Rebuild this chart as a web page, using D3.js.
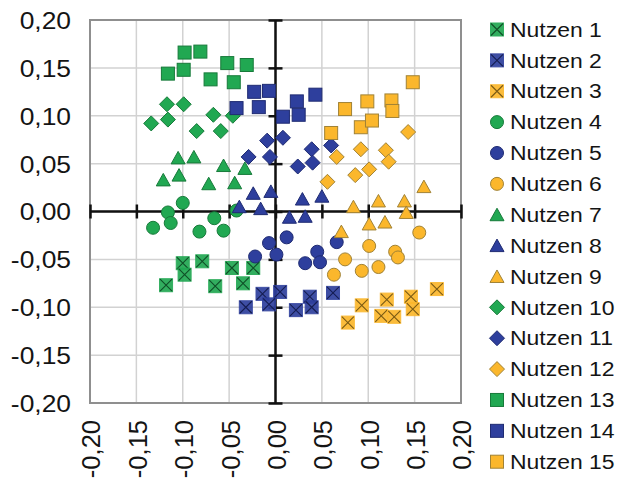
<!DOCTYPE html>
<html>
<head>
<meta charset="utf-8">
<title>Nutzen</title>
<script src="https://d3js.org/d3.v7.min.js"></script>
<style>
body { margin: 0; background: #fff; }
svg { display: block; }
text { font-family: "Liberation Sans", Arial, sans-serif; fill: #141414; }
</style>
</head>
<body>
<script>
// values, [x, y]
const nutzen1 = [[-0.100, -0.054], [-0.079, -0.052], [-0.098, -0.066], [-0.118, -0.077], [-0.047, -0.059], [-0.024, -0.059], [-0.035, -0.075], [-0.065, -0.078]];
const nutzen2 = [[-0.014, -0.086], [0.005, -0.084], [-0.007, -0.097], [-0.032, -0.100], [0.022, -0.103], [0.037, -0.089], [0.039, -0.100], [0.062, -0.085]];
const nutzen3 = [[0.174, -0.081], [0.146, -0.089], [0.120, -0.092], [0.093, -0.098], [0.148, -0.102], [0.114, -0.109], [0.128, -0.110], [0.078, -0.116]];
const nutzen4 = [[-0.100, 0.009], [-0.116, -0.001], [-0.113, -0.012], [-0.132, -0.017], [-0.066, -0.007], [-0.082, -0.021], [-0.056, -0.020], [-0.042, 0.001]];
const nutzen5 = [[-0.007, -0.033], [0.012, -0.027], [-0.022, -0.047], [0.001, -0.045], [0.045, -0.042], [0.032, -0.054], [0.048, -0.053], [0.066, -0.032]];
const nutzen6 = [[0.155, -0.022], [0.101, -0.036], [0.129, -0.042], [0.132, -0.048], [0.075, -0.050], [0.111, -0.058], [0.093, -0.062], [0.063, -0.066]];
const nutzen7 = [[-0.105, 0.056], [-0.088, 0.057], [-0.121, 0.033], [-0.104, 0.038], [-0.072, 0.029], [-0.056, 0.048], [-0.044, 0.030], [-0.033, 0.045]];
const nutzen8 = [[-0.024, 0.019], [-0.005, 0.021], [-0.039, 0.005], [-0.016, 0.003], [0.029, 0.013], [0.050, 0.016], [0.015, -0.006], [0.032, -0.005]];
const nutzen9 = [[0.160, 0.026], [0.111, 0.011], [0.139, 0.011], [0.084, 0.005], [0.141, -0.001], [0.101, -0.013], [0.118, -0.011], [0.071, -0.021]];
const nutzen10 = [[-0.117, 0.112], [-0.099, 0.112], [-0.134, 0.092], [-0.116, 0.096], [-0.067, 0.101], [-0.046, 0.100], [-0.085, 0.084], [-0.059, 0.084]];
const nutzen11 = [[-0.009, 0.074], [0.008, 0.077], [-0.029, 0.057], [-0.006, 0.057], [0.039, 0.065], [0.024, 0.047], [0.040, 0.051], [0.060, 0.069]];
const nutzen12 = [[0.143, 0.083], [0.066, 0.057], [0.092, 0.065], [0.119, 0.064], [0.122, 0.052], [0.086, 0.038], [0.101, 0.044], [0.056, 0.031]];
const nutzen13 = [[-0.116, 0.144], [-0.098, 0.166], [-0.081, 0.167], [-0.099, 0.148], [-0.070, 0.138], [-0.052, 0.155], [-0.045, 0.135], [-0.031, 0.153]];
const nutzen14 = [[-0.042, 0.108], [-0.023, 0.125], [-0.007, 0.126], [-0.018, 0.109], [0.008, 0.099], [0.023, 0.115], [0.043, 0.122], [0.025, 0.101]];
const nutzen15 = [[0.148, 0.135], [0.075, 0.107], [0.099, 0.115], [0.125, 0.116], [0.126, 0.105], [0.092, 0.088], [0.104, 0.095], [0.060, 0.082]];

const seriesNames = ['Nutzen 1', 'Nutzen 2', 'Nutzen 3', 'Nutzen 4', 'Nutzen 5', 'Nutzen 6', 'Nutzen 7', 'Nutzen 8',
    'Nutzen 9', 'Nutzen 10', 'Nutzen 11', 'Nutzen 12', 'Nutzen 13', 'Nutzen 14', 'Nutzen 15'];
const seriesData = [nutzen1, nutzen2, nutzen3, nutzen4, nutzen5, nutzen6, nutzen7, nutzen8,
    nutzen9, nutzen10, nutzen11, nutzen12, nutzen13, nutzen14, nutzen15];
const shapes = ['xsquare', 'circle', 'triangle', 'diamond', 'square'];
const tickVals = [-0.20, -0.15, -0.10, -0.05, 0.00, 0.05, 0.10, 0.15, 0.20];

const palette = [
    {fill: '#21a852', stroke: '#177a3a', cross: '#0f4f27'},
    {fill: '#2e3f9d', stroke: '#1f2b72', cross: '#151d52'},
    {fill: '#fbb72c', stroke: '#a08236', cross: '#7a5a14'}
];

let width = 620, height = 481;
let plot = {left: 90, right: 461, top: 20, bottom: 403};

let svg = d3.select('body').append('svg').attr('width', width).attr('height', height);

let x = d3.scaleLinear().domain([-0.2, 0.2]).range([plot.left, plot.right]);
let y = d3.scaleLinear().domain([-0.2, 0.2]).range([plot.bottom, plot.top]);

let fmt = (v) => (v < 0 ? '-' : '') + Math.abs(v).toFixed(2).replace('.', ',');

// grid
svg.append('g').selectAll('line').data(tickVals).enter().append('line')
    .attr('x1', (d) => x(d)).attr('x2', (d) => x(d)).attr('y1', plot.top).attr('y2', plot.bottom)
    .attr('stroke', '#d2d2d2').attr('stroke-width', 1.5);
svg.append('g').selectAll('line').data(tickVals).enter().append('line')
    .attr('y1', (d) => y(d)).attr('y2', (d) => y(d)).attr('x1', plot.left).attr('x2', plot.right)
    .attr('stroke', '#d2d2d2').attr('stroke-width', 1.5);

svg.append('rect').attr('x', plot.left).attr('y', plot.top)
    .attr('width', plot.right - plot.left).attr('height', plot.bottom - plot.top)
    .attr('fill', 'none').attr('stroke', '#8f8f8f').attr('stroke-width', 2);

// axes crossing at zero, ticks on both sides
let xCross = svg.append('g').attr('transform', 'translate(0,' + (y(0) - 7) + ')')
    .call(d3.axisBottom(x).tickValues(tickVals).tickSize(14).tickSizeOuter(0).tickFormat(''));
let yCross = svg.append('g').attr('transform', 'translate(' + (x(0) + 7) + ',0)')
    .call(d3.axisLeft(y).tickValues(tickVals).tickSize(14).tickSizeOuter(0).tickFormat(''));
[xCross, yCross].forEach((g) => {
    g.select('.domain').remove();
    g.selectAll('.tick line').attr('stroke', '#111').attr('stroke-width', 2.5);
});
svg.append('line').attr('x1', plot.left).attr('x2', plot.right).attr('y1', y(0)).attr('y2', y(0))
    .attr('stroke', '#111').attr('stroke-width', 2.5);
svg.append('line').attr('x1', x(0)).attr('x2', x(0)).attr('y1', plot.top).attr('y2', plot.bottom)
    .attr('stroke', '#111').attr('stroke-width', 2.5);

// tick labels
let yLabels = svg.append('g').attr('transform', 'translate(' + plot.left + ',0)')
    .call(d3.axisLeft(y).tickValues(tickVals).tickSize(0).tickFormat(fmt));
yLabels.select('.domain').remove();
yLabels.selectAll('.tick text').attr('x', 0).attr('dy', '0.35em')
    .attr('transform', 'translate(-19,0) scale(1.1,1)')
    .style('font-size', '24px').style('font-family', '"Liberation Sans", Arial, sans-serif').attr('fill', '#141414');

let xLabels = svg.append('g').attr('transform', 'translate(0,' + plot.bottom + ')')
    .call(d3.axisBottom(x).tickValues(tickVals).tickSize(0).tickFormat(fmt));
xLabels.select('.domain').remove();
xLabels.selectAll('.tick text').attr('x', 0).attr('y', 0).attr('dy', '0.35em')
    .attr('text-anchor', 'end').attr('transform', 'translate(1,17) rotate(-90)')
    .style('font-size', '25.5px').style('font-family', '"Liberation Sans", Arial, sans-serif').attr('fill', '#141414');

// markers
let drawMarker = function(g, shape, c) {
    if (shape === 'circle') {
        g.append('circle').attr('r', 6.5).attr('fill', c.fill).attr('stroke', c.stroke).attr('stroke-width', 1);
    } else if (shape === 'triangle') {
        g.append('path').attr('d', 'M0,-6.5L7,6L-7,6Z').attr('fill', c.fill).attr('stroke', c.stroke).attr('stroke-width', 1);
    } else if (shape === 'diamond') {
        g.append('path').attr('d', 'M0,-7.5L7.5,0L0,7.5L-7.5,0Z').attr('fill', c.fill).attr('stroke', c.stroke).attr('stroke-width', 1);
    } else if (shape === 'square') {
        g.append('rect').attr('x', -6.5).attr('y', -6.5).attr('width', 13).attr('height', 13)
            .attr('fill', c.fill).attr('stroke', c.stroke).attr('stroke-width', 1);
    } else {
        g.append('rect').attr('x', -6.5).attr('y', -6.5).attr('width', 13).attr('height', 13)
            .attr('fill', c.fill).attr('stroke', c.fill).attr('stroke-width', 1).attr('opacity', 0.92);
        g.append('path').attr('d', 'M-6,-6L6,6M6,-6L-6,6').attr('stroke', c.cross).attr('stroke-width', 1.1).attr('fill', 'none');
    }
};

seriesData.forEach((pts, i) => {
    let shape = shapes[Math.floor(i / 3)];
    let c = palette[i % 3];
    svg.append('g').selectAll('g').data(pts).enter().append('g')
        .attr('transform', (d) => 'translate(' + x(d[0]) + ',' + y(d[1]) + ')')
        .each(function() { drawMarker(d3.select(this), shape, c); });
});

// legend
let legendY = d3.scaleLinear().domain([0, seriesNames.length - 1]).range([29.5, 461.7]);
let legend = svg.append('g').selectAll('g').data(seriesNames).enter().append('g')
    .attr('transform', (d, i) => 'translate(497,' + legendY(i) + ')');
legend.each(function(d, i) { drawMarker(d3.select(this), shapes[Math.floor(i / 3)], palette[i % 3]); });
legend.append('text').attr('x', 0).attr('dy', '0.35em')
    .attr('transform', 'translate(13,0) scale(1.12,1)')
    .style('font-size', '20.5px').text((d) => d);
</script>
</body>
</html>
